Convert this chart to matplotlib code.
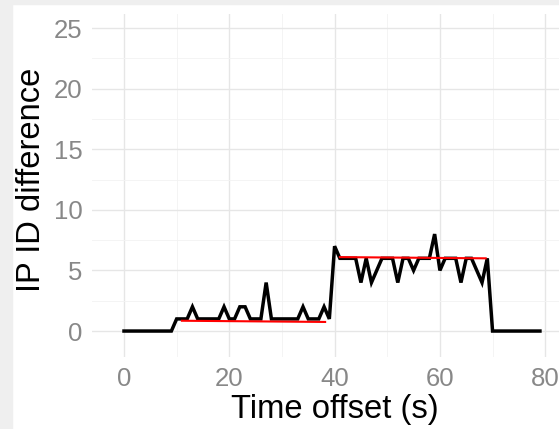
import matplotlib
matplotlib.use('Agg')
import matplotlib.pyplot as plt
from matplotlib.patches import Rectangle

plt.rcParams['font.family'] = ['Liberation Sans', 'DejaVu Sans']

# IP ID difference per second of time offset
time_s = list(range(0, 80))
ipid_diff = ([0] * 10 +
             [1, 1, 1, 2, 1, 1, 1, 1, 1, 2,
              1, 1, 2, 2, 1, 1, 1, 4, 1, 1,
              1, 1, 1, 1, 2, 1, 1, 1, 2, 1] +
             [7, 6, 6, 6, 6, 4, 6, 4, 5, 6,
              6, 6, 4, 6, 6, 5, 6, 6, 6, 8,
              5, 6, 6, 6, 4, 6, 6, 5, 4, 6] +
             [0] * 10)

# fitted levels (red segments)
fit1_x = [11, 38.2]
fit1_y = [0.85, 0.75]
fit2_x = [41, 68.7]
fit2_y = [6.1, 6.0]

W, H = 559, 429
fig = plt.figure(figsize=(W / 100, H / 100), dpi=100)
fig.patch.set_facecolor('white')

# light grey frame strips at the left and top of the image
fig.patches.append(Rectangle((0, 0), 12 / W, 1, transform=fig.transFigure,
                             color='#efefef', zorder=0))
fig.patches.append(Rectangle((0, 1 - 3.5 / H), 1, 3.5 / H, transform=fig.transFigure,
                             color='#efefef', zorder=0))

left, right = 92.4, 576.8
top, bottom = 14.1, 357.1
ax = fig.add_axes([left / W, 1 - bottom / H, (right - left) / W, (bottom - top) / H])

ax.plot(time_s, ipid_diff, color='black', linewidth=2.5, zorder=3,
        solid_joinstyle='miter')
ax.plot(fit1_x, fit1_y, color='#ff0000', linewidth=1.5, zorder=4)
ax.plot(fit2_x, fit2_y, color='#ff0000', linewidth=1.5, zorder=4)

ax.set_xlim(-6, 86)
ax.set_ylim(-2.15, 26.15)
ax.set_xticks([0, 20, 40, 60, 80])
ax.set_xticks([10, 30, 50, 70], minor=True)
ax.set_yticks([0, 5, 10, 15, 20, 25])
ax.set_yticks([2.5, 7.5, 12.5, 17.5, 22.5], minor=True)

ax.grid(which='major', color='#e6e6e6', linewidth=1.0)
ax.grid(which='minor', color='#f2f2f2', linewidth=0.6)
ax.set_axisbelow(True)
for s in ax.spines.values():
    s.set_visible(False)
ax.tick_params(which='both', length=0)
ax.tick_params(axis='both', labelsize=18.5, labelcolor='#888888')
ax.tick_params(axis='y', pad=7)
ax.tick_params(axis='x', pad=7)

ax.set_xlabel('Time offset (s)', fontsize=23.6, color='black')
ax.set_ylabel('IP ID difference', fontsize=23.6, color='black')
ax.xaxis.set_label_coords(0.4998, -0.108)
ax.yaxis.set_label_coords(-0.094, 0.516)

fig.savefig('out.png', dpi=100)
